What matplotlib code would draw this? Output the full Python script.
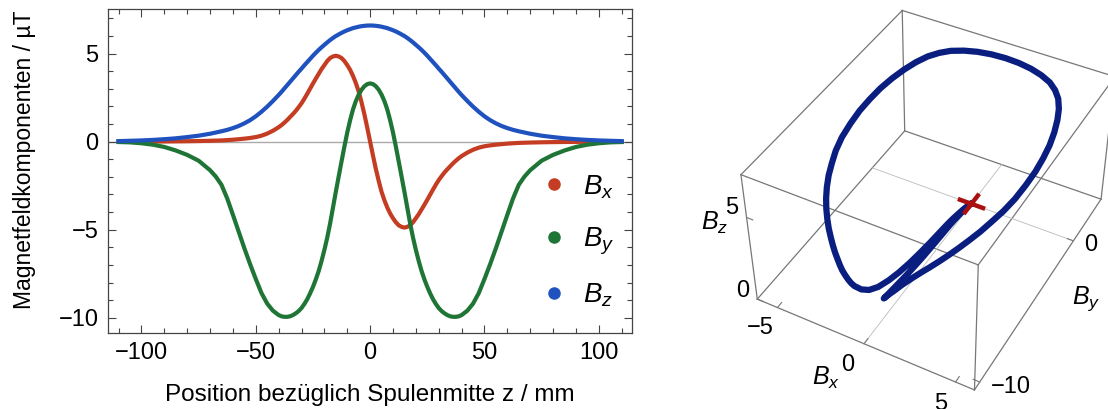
import itertools
import matplotlib
matplotlib.use('Agg')
import matplotlib.pyplot as plt
from matplotlib.lines import Line2D
from matplotlib.ticker import MultipleLocator

plt.rcParams['font.family'] = ['Liberation Sans', 'DejaVu Sans']
plt.rcParams['mathtext.fontset'] = 'custom'
plt.rcParams['mathtext.it'] = 'Liberation Sans:italic'
plt.rcParams['mathtext.rm'] = 'Liberation Sans'

# position relative to coil centre (mm)
z_mm = [-110, -105, -100, -95, -90, -85, -80, -75, -70,
        -67.5, -65, -62.5, -60, -57.5, -55, -52.5, -50, -47.5, -45, -42.5,
        -40, -38.75, -37.5, -36.25, -35, -33.75, -32.5, -31.25, -30, -28.75,
        -27.5, -26.25, -25, -23.75, -22.5, -21.25, -20, -18.75, -17.5, -16.25,
        -15, -13.75, -12.5, -11.25, -10, -8.75, -7.5, -6.25, -5, -3.75,
        -2.5, -1.25, 0, 1.25, 2.5,
        3.75, 5, 6.25, 7.5, 8.75, 10, 11.25, 12.5, 13.75, 15,
        16.25, 17.5, 18.75, 20, 21.25, 22.5, 23.75, 25, 26.25, 27.5,
        28.75, 30, 31.25, 32.5, 33.75, 35, 36.25, 37.5, 38.75, 40,
        42.5, 45, 47.5, 50, 52.5, 55, 57.5, 60, 62.5, 65, 67.5,
        70, 75, 80, 85, 90, 95, 100, 105, 110]

# field components (uT)
b_x = [0.002, 0.003, 0.005, 0.008, 0.012, 0.018, 0.025, 0.035, 0.05,
       0.06, 0.07, 0.09, 0.11, 0.14, 0.17, 0.21, 0.26, 0.34, 0.46, 0.62,
       0.82, 0.94, 1.08, 1.23, 1.40, 1.57, 1.75, 1.96, 2.18, 2.44,
       2.72, 3.01, 3.30, 3.58, 3.85, 4.12, 4.35, 4.58, 4.75, 4.84,
       4.88, 4.84, 4.75, 4.58, 4.35, 4.08, 3.74, 3.33, 2.85, 2.23,
       1.55, 0.79, 0.0, -0.79, -1.55,
       -2.23, -2.85, -3.33, -3.74, -4.08, -4.35, -4.58, -4.75, -4.84, -4.88,
       -4.84, -4.75, -4.58, -4.35, -4.12, -3.85, -3.58, -3.30, -3.01, -2.72,
       -2.44, -2.18, -1.96, -1.75, -1.57, -1.40, -1.23, -1.08, -0.94, -0.82,
       -0.62, -0.46, -0.34, -0.26, -0.21, -0.17, -0.14, -0.11, -0.09, -0.07, -0.06,
       -0.05, -0.035, -0.025, -0.018, -0.012, -0.008, -0.005, -0.003, -0.002]

b_y = [-0.02, -0.04, -0.09, -0.17, -0.30, -0.50, -0.75, -1.08, -1.62,
       -1.98, -2.45, -3.22, -4.15, -5.10, -6.05, -6.95, -7.80, -8.60, -9.20, -9.60,
       -9.85, -9.92, -9.95, -9.95, -9.92, -9.85, -9.75, -9.62, -9.45, -9.22,
       -8.95, -8.62, -8.25, -7.83, -7.35, -6.78, -6.15, -5.45, -4.65, -3.75,
       -2.85, -1.98, -1.12, -0.28, 0.52, 1.22, 1.83, 2.30, 2.67, 2.95,
       3.15, 3.27, 3.31, 3.27, 3.15,
       2.95, 2.67, 2.30, 1.83, 1.22, 0.52, -0.28, -1.12, -1.98, -2.85,
       -3.75, -4.65, -5.45, -6.15, -6.78, -7.35, -7.83, -8.25, -8.62, -8.95,
       -9.22, -9.45, -9.62, -9.75, -9.85, -9.92, -9.95, -9.95, -9.92, -9.85,
       -9.60, -9.20, -8.60, -7.80, -6.95, -6.05, -5.10, -4.15, -3.22, -2.45, -1.98,
       -1.62, -1.08, -0.75, -0.50, -0.30, -0.17, -0.09, -0.04, -0.02]

b_z = [0.03, 0.05, 0.07, 0.10, 0.14, 0.19, 0.26, 0.34, 0.45,
       0.52, 0.59, 0.67, 0.77, 0.89, 1.04, 1.22, 1.44, 1.70, 1.99, 2.31,
       2.65, 2.83, 3.02, 3.21, 3.40, 3.59, 3.78, 3.97, 4.15, 4.34,
       4.52, 4.70, 4.88, 5.05, 5.21, 5.36, 5.50, 5.64, 5.77, 5.89,
       6.00, 6.09, 6.18, 6.26, 6.33, 6.39, 6.45, 6.49, 6.53, 6.56,
       6.58, 6.595, 6.60, 6.595, 6.58,
       6.56, 6.53, 6.49, 6.45, 6.39, 6.33, 6.26, 6.18, 6.09, 6.00,
       5.89, 5.77, 5.64, 5.50, 5.36, 5.21, 5.05, 4.88, 4.70, 4.52,
       4.34, 4.15, 3.97, 3.78, 3.59, 3.40, 3.21, 3.02, 2.83, 2.65,
       2.31, 1.99, 1.70, 1.44, 1.22, 1.04, 0.89, 0.77, 0.67, 0.59, 0.52,
       0.45, 0.34, 0.26, 0.19, 0.14, 0.10, 0.07, 0.05, 0.03]

labels = [r'$B_x$', r'$B_y$', r'$B_z$']
colors = ['#C43D22', '#1E7535', '#1F52BE']

# 3d box ranges and ticks
box_x = (-6.2, 6.0)
box_y = (-10.5, 3.4)
box_z = (0.0, 7.4)
ticks_x = [-5, 0, 5]
ticks_y = [-10, 0]
ticks_z = [0, 5]
origin = (0, 0, 0)


def num(t):
    return '\u2212%d' % -t if t < 0 else '%d' % t


fig = plt.figure(figsize=(11.08, 4.09), dpi=100)

# ---- left: components vs z
ax = fig.add_axes([0.0977, 0.1866, 0.4727, 0.7907])
ax.axhline(0, color='#aaaaaa', lw=1.0, zorder=1)
for vals, col in zip([b_x, b_y, b_z], colors):
    ax.plot(z_mm, vals, color=col, lw=3.0, zorder=2)
ax.set_xlim(-114.5, 114.5)
ax.set_ylim(-10.85, 7.52)
ax.xaxis.set_major_locator(MultipleLocator(50))
ax.xaxis.set_minor_locator(MultipleLocator(10))
ax.yaxis.set_major_locator(MultipleLocator(5))
ax.yaxis.set_minor_locator(MultipleLocator(1))
ax.tick_params(which='both', direction='in', top=True, right=True,
               color='#444444', width=0.8)
ax.tick_params(which='major', length=6, labelsize=17, pad=7)
ax.tick_params(which='minor', length=3.5)
for sp in ax.spines.values():
    sp.set_color('#444444')
    sp.set_linewidth(0.9)
ax.set_xlabel('Position bezüglich Spulenmitte z / mm', fontsize=17.5)
ax.xaxis.set_label_coords(0.5, -0.158)
ax.set_ylabel('Magnetfeldkomponenten / µT', fontsize=16.5)
ax.yaxis.set_label_coords(-0.138, 0.534)

handles = [Line2D([], [], marker='o', ls='none', color=c, markersize=8) for c in colors]
ax.legend(handles, labels, loc='center left', bbox_to_anchor=(0.8247, 0.283),
          frameon=False, fontsize=20, handlelength=1.0, handletextpad=0.55,
          labelspacing=0.9, borderpad=0, borderaxespad=0)

# ---- right: field vector path in 3d
ax3 = fig.add_axes([0.6553, 0.027, 0.369, 1.0], projection='3d')
ax3.computed_zorder = False
ax3.set_proj_type('persp', focal_length=0.6)
ax3.set_xlim(box_x)
ax3.set_ylim(box_y)
ax3.set_zlim(box_z)
ax3.set_box_aspect((1, 1.23, 0.68), zoom=1.0)
ax3.view_init(elev=42, azim=-61.6)
ax3.set_axis_off()
ax3.patch.set_alpha(0)

edge = dict(color='#777777', lw=0.9, zorder=1)
for y0, z0 in itertools.product(box_y, box_z):
    ax3.plot(box_x, [y0, y0], [z0, z0], **edge)
for x0, z0 in itertools.product(box_x, box_z):
    ax3.plot([x0, x0], box_y, [z0, z0], **edge)
for x0, y0 in itertools.product(box_x, box_y):
    ax3.plot([x0, x0], [y0, y0], box_z, **edge)

grid = dict(color='#bbbbbb', lw=0.6, zorder=1)
ax3.plot([origin[0]] * 2, box_y, [box_z[0]] * 2, **grid)
ax3.plot(box_x, [origin[1]] * 2, [box_z[0]] * 2, **grid)

tick = dict(color='#777777', lw=0.8, zorder=1)
for t in ticks_x:
    ax3.plot([t, t], [box_y[0], box_y[0] + 0.35], [box_z[0]] * 2, **tick)
    ax3.text(t, box_y[0] - 1.4, box_z[0], num(t),
             fontsize=17, ha='center', va='center')
for t in ticks_y:
    ax3.plot([box_x[1], box_x[1] - 0.35], [t, t], [box_z[0]] * 2, **tick)
    ax3.text(box_x[1] + 0.6, t, box_z[0], num(t),
             fontsize=17, ha='left', va='center')
for t in ticks_z:
    ax3.plot([box_x[0], box_x[0] + 0.35], [box_y[0]] * 2, [t, t], **tick)
    ax3.text(box_x[0] - 0.45, box_y[0], t + 0.35, num(t),
             fontsize=17, ha='right', va='center')

ax3.text(-0.5, box_y[0] - 2.5, box_z[0], r'$B_x$', fontsize=18, ha='center', va='center')
ax3.text(box_x[1] + 2.24, -3.27, box_z[0], r'$B_y$', fontsize=18, ha='center', va='center')
ax3.text(box_x[0] - 2.0, box_y[0], 3.9, r'$B_z$', fontsize=18, ha='center', va='center')

ax3.plot(b_x, b_y, b_z, color='#0A1E80', lw=4.5, zorder=2,
         solid_capstyle='round', solid_joinstyle='round')

arm = 0.7
ax3.plot([origin[0] - arm, origin[0] + arm], [origin[1]] * 2, [origin[2]] * 2,
         color='#AA1010', lw=3.2, zorder=3)
ax3.plot([origin[0]] * 2, [origin[1] - arm, origin[1] + arm], [origin[2]] * 2,
         color='#AA1010', lw=3.2, zorder=3)

fig.savefig('out.png', dpi=100)
